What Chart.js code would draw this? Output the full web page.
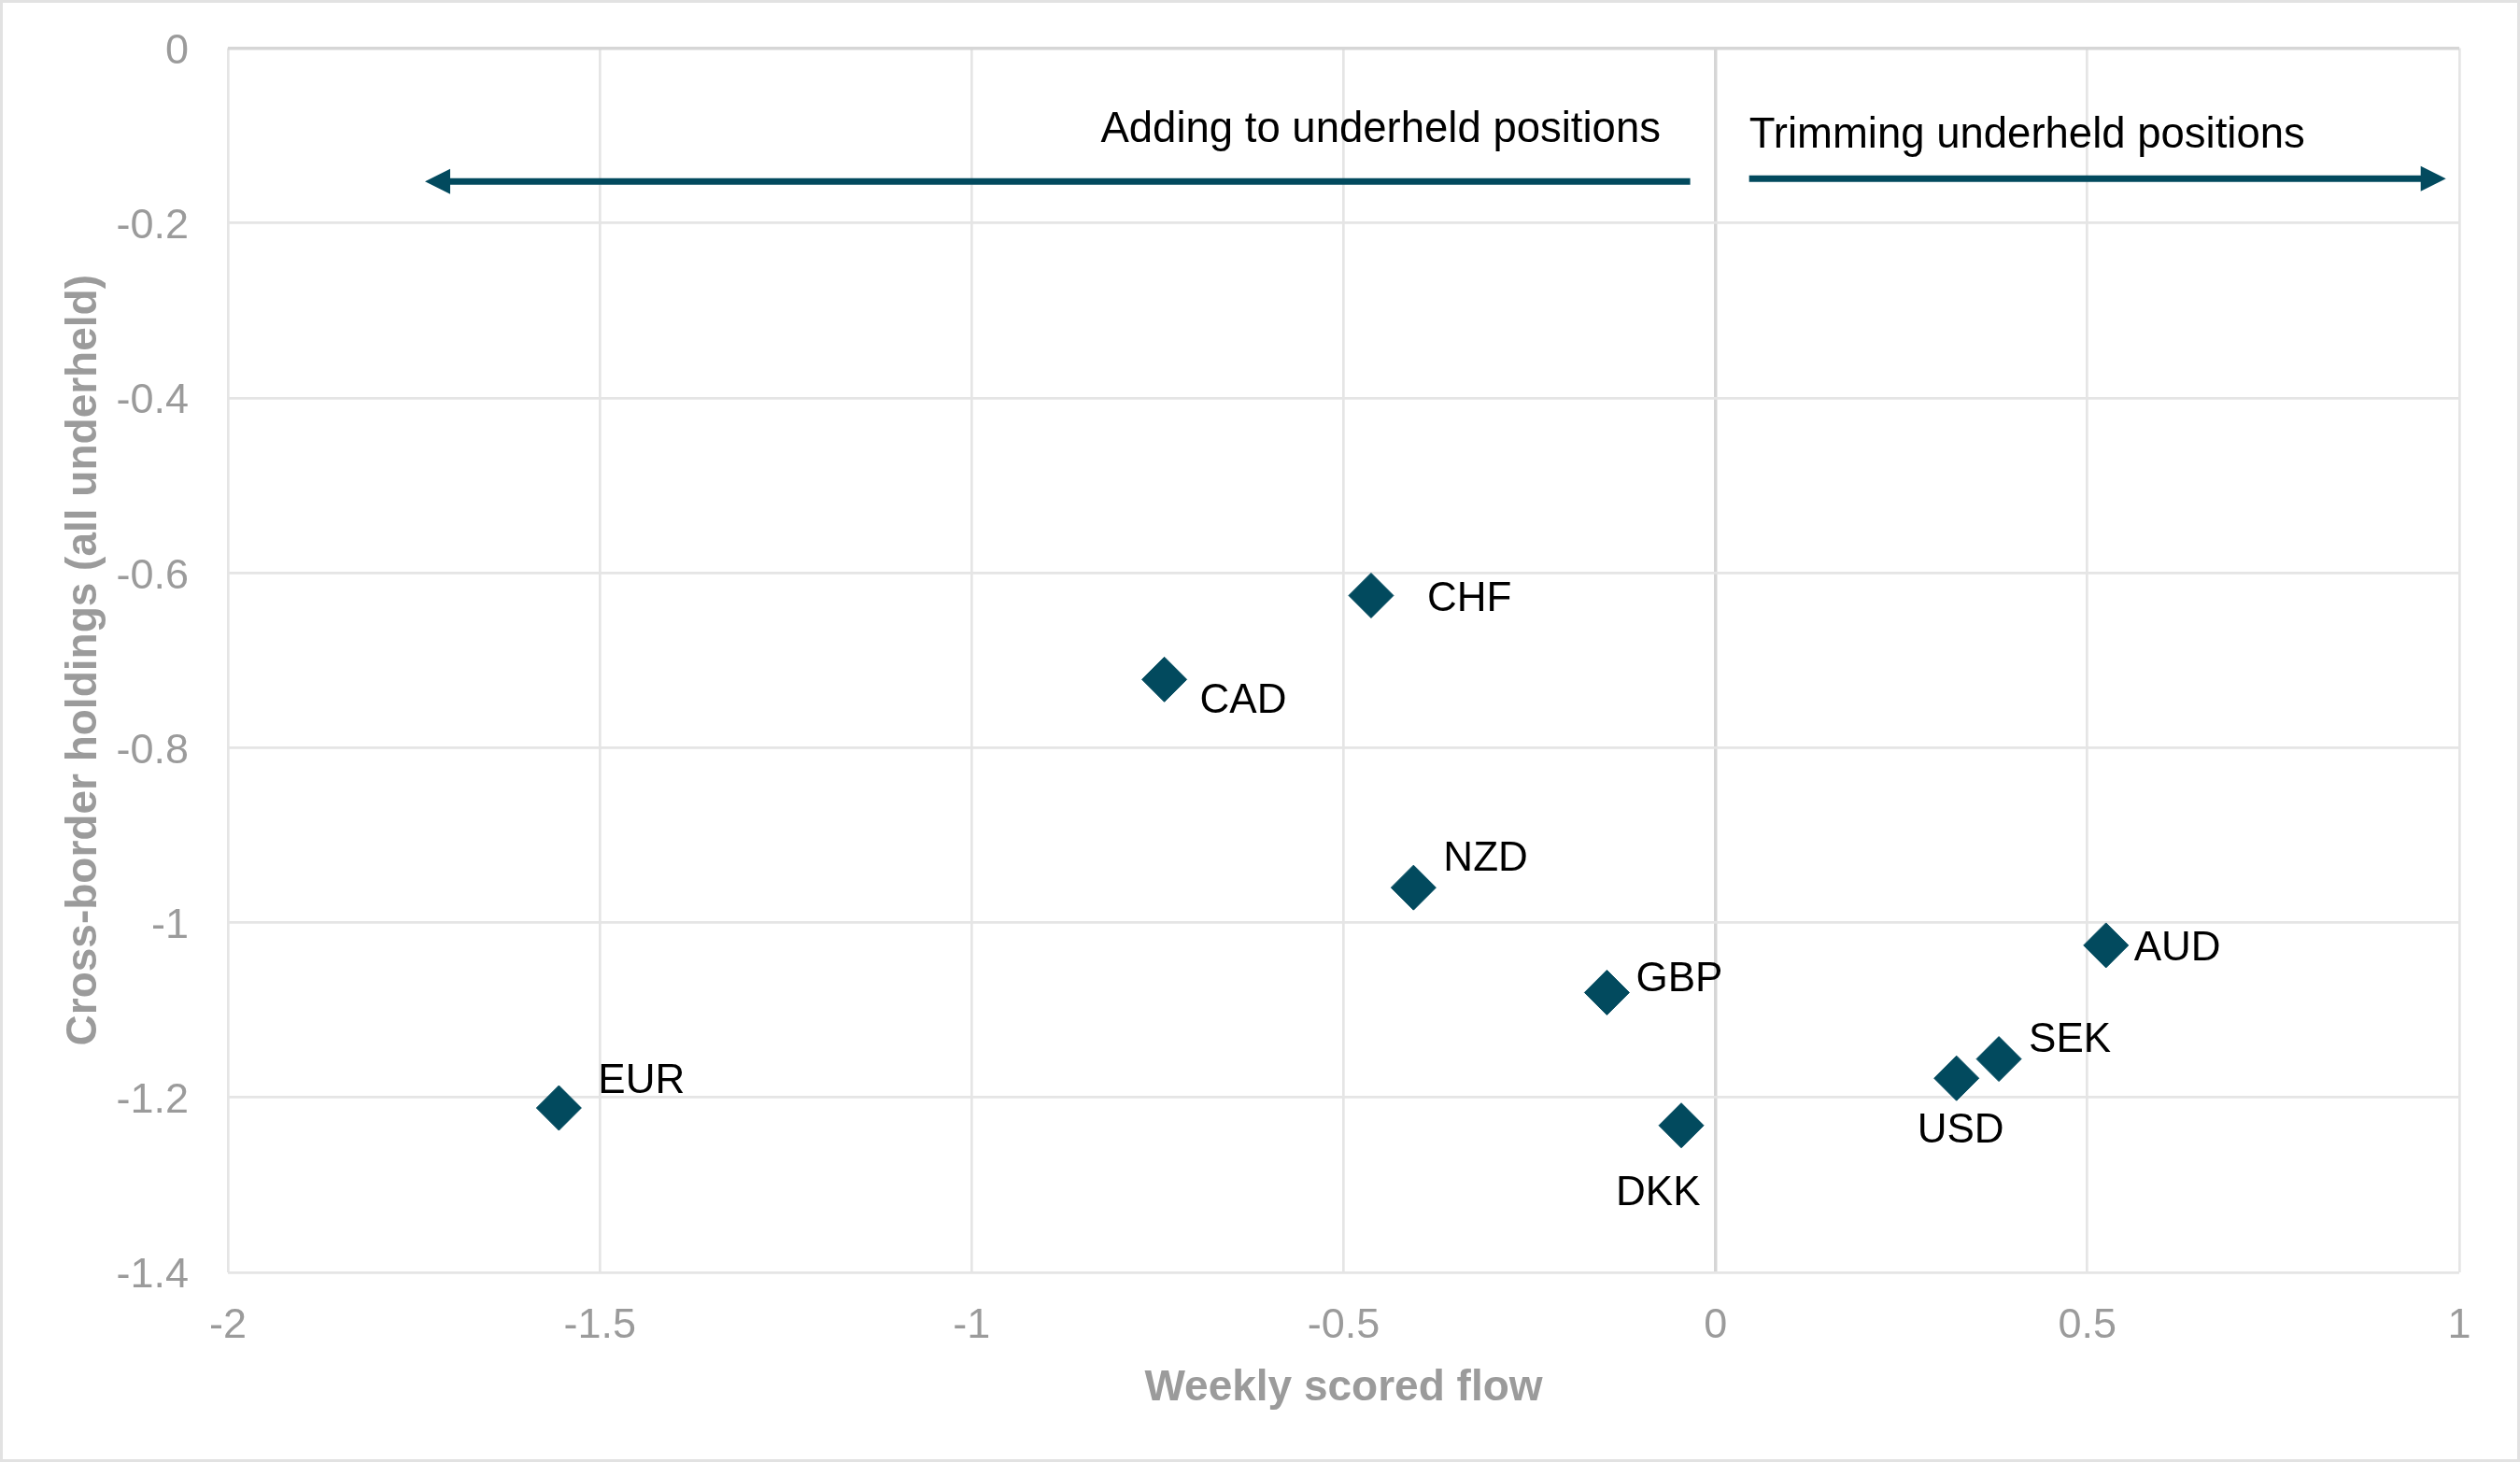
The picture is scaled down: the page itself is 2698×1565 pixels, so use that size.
<!DOCTYPE html>
<html>
<head>
<meta charset="utf-8">
<script src="https://cdn.jsdelivr.net/npm/chart.js@4/dist/chart.umd.min.js"></script>
<style>
  html, body { margin: 0; padding: 0; background: #ffffff; overflow: hidden; }
  #wrap { width: 2698px; height: 1565px; position: relative; }
  canvas { display: block; }
</style>
</head>
<body>
<div id="wrap"><canvas id="chart" width="2698" height="1565"></canvas></div>
<script>
// ---------------- DATA ----------------
const categories    = ['EUR', 'CAD', 'CHF', 'NZD', 'GBP', 'DKK', 'USD', 'SEK', 'AUD'];
const flowValues    = [-1.555, -0.741, -0.463, -0.406, -0.146, -0.046, 0.324, 0.381, 0.525];
const holdingValues = [-1.212, -0.722, -0.626, -0.960, -1.080, -1.232, -1.178, -1.156, -1.026];
const xTickLabels   = ['-2', '-1.5', '-1', '-0.5', '0', '0.5', '1'];
const yTickLabels   = ['0', '-0.2', '-0.4', '-0.6', '-0.8', '-1', '-1.2', '-1.4'];
const xAxisTitle    = 'Weekly scored flow';
const yAxisTitle    = 'Cross-border holdings (all underheld)';
const leftNote      = 'Adding to underheld positions';
const rightNote     = 'Trimming underheld positions';

// ---------------- STYLE / PLACEMENT ----------------
const MARK = '#024A5E';
const TICK_GRAY = '#9b9b9b';
const GRID = '#e5e5e5';
const AXIS = '#d6d6d6';
const FONT = '"Liberation Sans", Arial, sans-serif';

// label offsets from marker centre (px): [dx to left edge, dy to baseline]
const labelPlacement = {
  EUR: [42, -16], CAD: [38, 36], CHF: [60, 17], NZD: [32, -18], GBP: [31, -1],
  DKK: [-70, 85], USD: [-42, 69], SEK: [32, -8], AUD: [30, 16]
};
// annotation arrows, in data units
const arrowSpecs = [
  { from: -0.034, to: -1.735, y: -0.1525 },
  { from: 0.0452, to: 0.982, y: -0.1493 }
];
const noteSpecs = [
  { text: leftNote,  x: -0.0737, y: -0.107, align: 'right' },
  { text: rightNote, x: 0.0452,  y: -0.1141, align: 'left' }
];

const xVals = xTickLabels.map(Number);
const yVals = yTickLabels.map(Number);
const points = categories.map((c, i) => ({ x: flowValues[i], y: holdingValues[i] }));

function labelFor(list, v) {
  const hit = list.find(l => Math.abs(Number(l) - v) < 1e-9);
  return hit === undefined ? '' : hit;
}

const frame = {
  id: 'frame',
  beforeDraw(chart) {
    const ctx = chart.ctx;
    ctx.save();
    ctx.fillStyle = '#ffffff';
    ctx.fillRect(0, 0, chart.width, chart.height);
    ctx.strokeStyle = '#e2e2e2';
    ctx.lineWidth = 3;
    ctx.strokeRect(1.5, 1.5, chart.width - 3, chart.height - 3);
    ctx.restore();
  }
};

const annotations = {
  id: 'annotations',
  afterDatasetsDraw(chart) {
    const ctx = chart.ctx;
    const xs = chart.scales.x, ys = chart.scales.y;
    ctx.save();
    // arrows
    ctx.fillStyle = MARK;
    ctx.strokeStyle = MARK;
    arrowSpecs.forEach(a => {
      const x0 = xs.getPixelForValue(a.from);
      const x1 = xs.getPixelForValue(a.to);
      const y = ys.getPixelForValue(a.y);
      const dir = Math.sign(x1 - x0);
      const headLen = 27, headHalf = 13.5;
      ctx.lineWidth = 7;
      ctx.lineCap = 'butt';
      ctx.beginPath();
      ctx.moveTo(x0, y);
      ctx.lineTo(x1 - dir * (headLen - 2), y);
      ctx.stroke();
      ctx.beginPath();
      ctx.moveTo(x1, y);
      ctx.lineTo(x1 - dir * headLen, y - headHalf);
      ctx.lineTo(x1 - dir * headLen, y + headHalf);
      ctx.closePath();
      ctx.fill();
    });
    // notes
    ctx.fillStyle = '#000000';
    ctx.font = '45.5px ' + FONT;
    ctx.textBaseline = 'alphabetic';
    noteSpecs.forEach(n => {
      ctx.textAlign = n.align;
      ctx.fillText(n.text, xs.getPixelForValue(n.x), ys.getPixelForValue(n.y));
    });
    // point labels
    ctx.font = '44px ' + FONT;
    const meta = chart.getDatasetMeta(0);
    ctx.textAlign = 'left';
    meta.data.forEach((el, i) => {
      const p = labelPlacement[categories[i]] || [30, 0];
      ctx.fillText(categories[i], el.x + p[0], el.y + p[1]);
    });
    ctx.restore();
  }
};

new Chart(document.getElementById('chart'), {
  type: 'scatter',
  data: {
    labels: categories,
    datasets: [{
      label: 'Currencies',
      data: points,
      pointStyle: 'rectRot',
      pointRadius: 24,
      pointHoverRadius: 24,
      pointBorderWidth: 1,
      backgroundColor: MARK,
      borderColor: MARK
    }]
  },
  options: {
    responsive: false,
    devicePixelRatio: 1,
    animation: false,
    events: [],
    layout: { padding: { top: 51.5, right: 65, bottom: 0, left: 0 } },
    plugins: { legend: { display: false }, tooltip: { enabled: false } },
    scales: {
      x: {
        type: 'linear',
        min: Math.min(...xVals),
        max: Math.max(...xVals),
        afterBuildTicks: s => { s.ticks = xVals.map(v => ({ value: v })); },
        afterFit: s => { s.height = 203; s.paddingLeft = 0; s.paddingRight = 0; },
        grid: {
          drawTicks: false,
          color: c => (c.tick && c.tick.value === 0 ? AXIS : GRID),
          lineWidth: c => (c.tick && c.tick.value === 0 ? 3.5 : 2.7)
        },
        border: { display: false },
        ticks: {
          padding: 35,
          color: TICK_GRAY,
          font: { family: FONT, size: 45, lineHeight: 1 },
          maxRotation: 0,
          callback: v => labelFor(xTickLabels, v)
        },
        title: {
          display: true,
          text: xAxisTitle,
          color: TICK_GRAY,
          font: { family: FONT, size: 46, weight: 'bold', lineHeight: 1 },
          padding: { top: 0, bottom: 55.7 }
        }
      },
      y: {
        type: 'linear',
        min: Math.min(...yVals),
        max: Math.max(...yVals),
        afterBuildTicks: s => { s.ticks = yVals.slice().sort((a, b) => a - b).map(v => ({ value: v })); },
        afterFit: s => { s.width = 244; s.paddingTop = 0; s.paddingBottom = 0; },
        grid: {
          drawTicks: false,
          color: c => (c.tick && c.tick.value === 0 ? AXIS : GRID),
          lineWidth: c => (c.tick && c.tick.value === 0 ? 3.5 : 2.7)
        },
        border: { display: false },
        ticks: {
          padding: 42,
          labelOffset: 4,
          color: TICK_GRAY,
          font: { family: FONT, size: 45, lineHeight: 1 },
          callback: v => labelFor(yTickLabels, v)
        },
        title: {
          display: true,
          text: yAxisTitle,
          color: TICK_GRAY,
          font: { family: FONT, size: 46, weight: 'bold', lineHeight: 1 },
          padding: { top: 67, bottom: 0 }
        }
      }
    }
  },
  plugins: [frame, annotations]
});
</script>
</body>
</html>
